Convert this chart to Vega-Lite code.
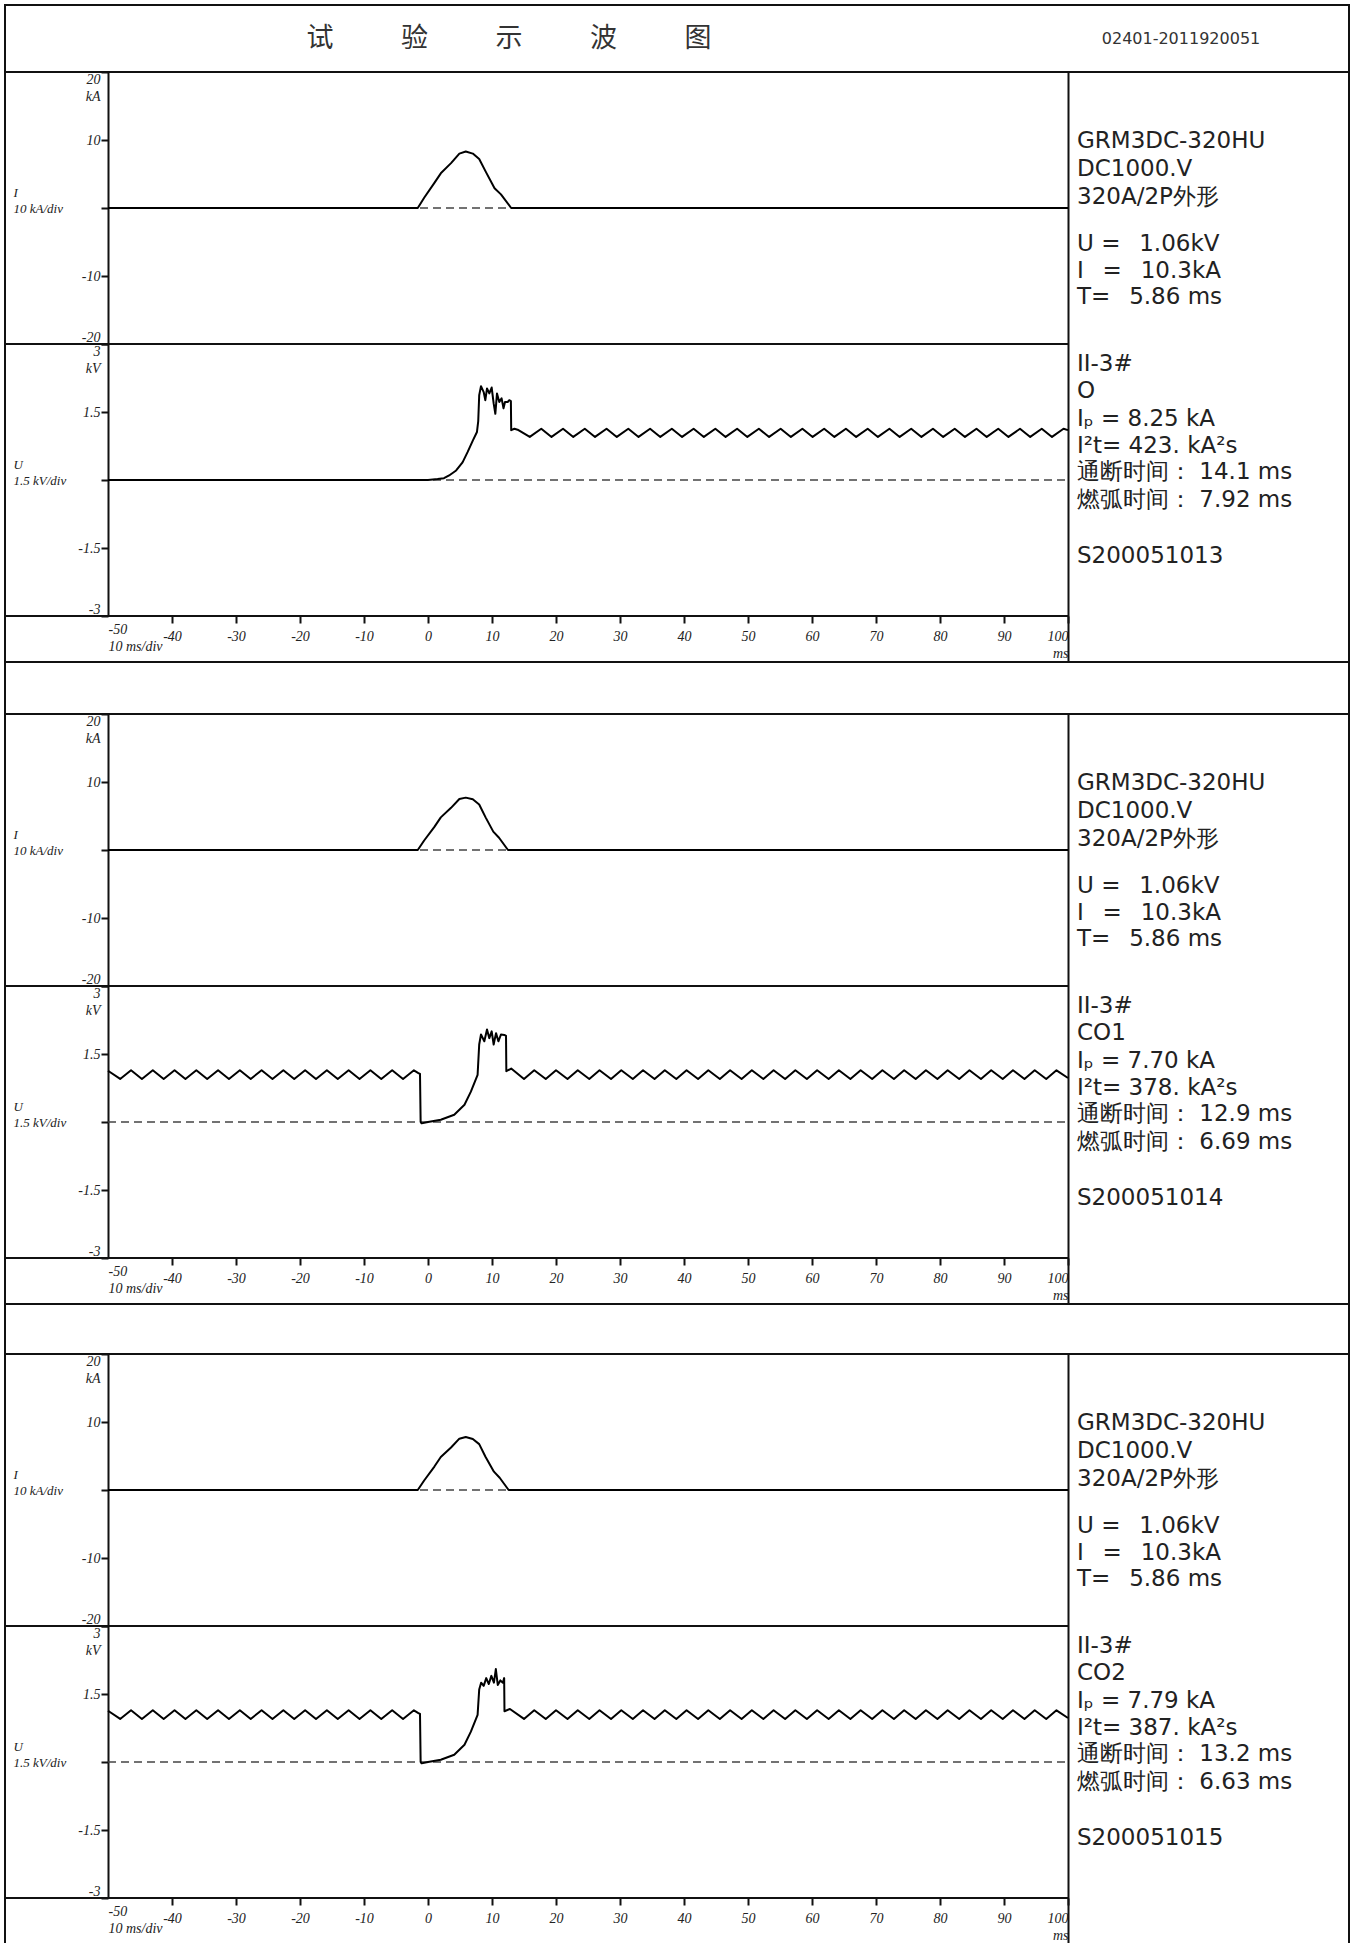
{
  "$schema": "https://vega.github.io/schema/vega-lite/v6.json",
  "padding": {"left": 3, "top": 4, "right": 2, "bottom": 0},
  "background": "white",
  "spacing": 0,
  "bounds": "flush",
  "resolve": {"scale": {"x": "independent", "y": "independent"}},
  "config": {"view": {"stroke": "#111", "strokeWidth": 2}},
  "datasets": {
    "header": [
      {"slot": "title", "text": "试\u3000\u3000\u2002验\u3000\u3000\u2002示\u3000\u3000\u2002波\u3000\u3000\u2002图"},
      {"slot": "code", "text": "02401-2011920051"}
    ],
    "blank": [{"note": ""}],
    "zero": [{"t": -50, "v": 0}, {"t": 100, "v": 0}],
    "frameI": [{"t": -66.09375, "v": -20}, {"t": 100, "v": -20}],
    "frameU": [{"t": -66.09375, "v": -3}, {"t": 100, "v": -3}],
    "info": [
      {"panel": 1, "line": 0, "text": "GRM3DC-320HU"},
      {"panel": 1, "line": 1.05, "text": "DC1000.V"},
      {"panel": 1, "line": 2.1, "text": "320A/2P外形"},
      {"panel": 1, "line": 3.9, "text": "U =\u2002 1.06kV"},
      {"panel": 1, "line": 4.9, "text": "I\u2002 =\u2002 10.3kA"},
      {"panel": 1, "line": 5.9, "text": "T=\u2002 5.86 ms"},
      {"panel": 1, "line": 8.4, "text": "II-3#"},
      {"panel": 1, "line": 9.45, "text": "O"},
      {"panel": 1, "line": 10.5, "text": "Iₚ = 8.25 kA"},
      {"panel": 1, "line": 11.5, "text": "I²t= 423. kA²s"},
      {"panel": 1, "line": 12.5, "text": "通断时间： 14.1 ms"},
      {"panel": 1, "line": 13.55, "text": "燃弧时间： 7.92 ms"},
      {"panel": 1, "line": 15.65, "text": "S200051013"},
      {"panel": 2, "line": 0, "text": "GRM3DC-320HU"},
      {"panel": 2, "line": 1.05, "text": "DC1000.V"},
      {"panel": 2, "line": 2.1, "text": "320A/2P外形"},
      {"panel": 2, "line": 3.9, "text": "U =\u2002 1.06kV"},
      {"panel": 2, "line": 4.9, "text": "I\u2002 =\u2002 10.3kA"},
      {"panel": 2, "line": 5.9, "text": "T=\u2002 5.86 ms"},
      {"panel": 2, "line": 8.4, "text": "II-3#"},
      {"panel": 2, "line": 9.45, "text": "CO1"},
      {"panel": 2, "line": 10.5, "text": "Iₚ = 7.70 kA"},
      {"panel": 2, "line": 11.5, "text": "I²t= 378. kA²s"},
      {"panel": 2, "line": 12.5, "text": "通断时间： 12.9 ms"},
      {"panel": 2, "line": 13.55, "text": "燃弧时间： 6.69 ms"},
      {"panel": 2, "line": 15.65, "text": "S200051014"},
      {"panel": 3, "line": 0, "text": "GRM3DC-320HU"},
      {"panel": 3, "line": 1.05, "text": "DC1000.V"},
      {"panel": 3, "line": 2.1, "text": "320A/2P外形"},
      {"panel": 3, "line": 3.9, "text": "U =\u2002 1.06kV"},
      {"panel": 3, "line": 4.9, "text": "I\u2002 =\u2002 10.3kA"},
      {"panel": 3, "line": 5.9, "text": "T=\u2002 5.86 ms"},
      {"panel": 3, "line": 8.4, "text": "II-3#"},
      {"panel": 3, "line": 9.45, "text": "CO2"},
      {"panel": 3, "line": 10.5, "text": "Iₚ = 7.79 kA"},
      {"panel": 3, "line": 11.5, "text": "I²t= 387. kA²s"},
      {"panel": 3, "line": 12.5, "text": "通断时间： 13.2 ms"},
      {"panel": 3, "line": 13.55, "text": "燃弧时间： 6.63 ms"},
      {"panel": 3, "line": 15.65, "text": "S200051015"}
    ],
    "I1": [{"t":-50,"v":0},{"t":-1.6,"v":0},{"t":-0.6,"v":1.5},{"t":1.0,"v":3.7},{"t":2.0,"v":5.1},{"t":3.6,"v":6.6},{"t":4.9,"v":8.0},{"t":5.9,"v":8.3},{"t":7.0,"v":8.0},{"t":8.0,"v":7.2},{"t":9.1,"v":5.2},{"t":10.4,"v":2.9},{"t":11.4,"v":2.0},{"t":13.0,"v":0},{"t":100,"v":0}],
    "I2": [{"t":-50,"v":0},{"t":-1.6,"v":0},{"t":-0.6,"v":1.4},{"t":1.0,"v":3.4},{"t":2.0,"v":4.8},{"t":3.6,"v":6.2},{"t":4.9,"v":7.5},{"t":5.9,"v":7.7},{"t":7.0,"v":7.45},{"t":8.0,"v":6.7},{"t":9.0,"v":4.8},{"t":10.2,"v":2.7},{"t":11.1,"v":1.8},{"t":12.5,"v":0},{"t":100,"v":0}],
    "I3": [{"t":-50,"v":0},{"t":-1.6,"v":0},{"t":-0.6,"v":1.4},{"t":1.0,"v":3.45},{"t":2.0,"v":4.85},{"t":3.6,"v":6.25},{"t":4.9,"v":7.55},{"t":5.9,"v":7.8},{"t":7.0,"v":7.5},{"t":8.0,"v":6.75},{"t":9.0,"v":4.85},{"t":10.3,"v":2.7},{"t":11.2,"v":1.8},{"t":12.6,"v":0},{"t":100,"v":0}],
    "U1": [{"t":-50,"v":0},{"t":0,"v":0},{"t":1.5,"v":0.02},{"t":2.5,"v":0.04},{"t":3.3,"v":0.1},{"t":4.4,"v":0.21},{"t":5.4,"v":0.39},{"t":6.2,"v":0.62},{"t":7.0,"v":0.87},{"t":7.65,"v":1.06},{"t":7.85,"v":1.3},{"t":8.0,"v":1.87},{"t":8.28,"v":2.07},{"t":8.7,"v":1.94},{"t":8.96,"v":1.76},{"t":9.22,"v":2.02},{"t":9.58,"v":1.91},{"t":9.95,"v":2.04},{"t":10.26,"v":1.69},{"t":10.52,"v":1.46},{"t":10.78,"v":1.91},{"t":11.14,"v":1.72},{"t":11.5,"v":1.8},{"t":11.8,"v":1.58},{"t":12.03,"v":1.72},{"t":12.45,"v":1.72},{"t":12.7,"v":1.76},{"t":12.95,"v":1.74},{"t":13.0,"v":1.1},{"t":13.5,"v":1.13},{"t":14.0,"v":1.11},{"t":15.9,"v":0.95},{"t":17.7,"v":1.13},{"t":19.3,"v":0.95},{"t":21.1,"v":1.13},{"t":22.7,"v":0.95},{"t":24.5,"v":1.13},{"t":26.1,"v":0.95},{"t":27.9,"v":1.13},{"t":29.5,"v":0.95},{"t":31.3,"v":1.13},{"t":32.9,"v":0.95},{"t":34.7,"v":1.13},{"t":36.3,"v":0.95},{"t":38.1,"v":1.13},{"t":39.7,"v":0.95},{"t":41.5,"v":1.13},{"t":43.1,"v":0.95},{"t":44.9,"v":1.13},{"t":46.5,"v":0.95},{"t":48.3,"v":1.13},{"t":49.9,"v":0.95},{"t":51.7,"v":1.13},{"t":53.3,"v":0.95},{"t":55.1,"v":1.13},{"t":56.7,"v":0.95},{"t":58.5,"v":1.13},{"t":60.1,"v":0.95},{"t":61.9,"v":1.13},{"t":63.5,"v":0.95},{"t":65.3,"v":1.13},{"t":66.9,"v":0.95},{"t":68.7,"v":1.13},{"t":70.3,"v":0.95},{"t":72.1,"v":1.13},{"t":73.7,"v":0.95},{"t":75.5,"v":1.13},{"t":77.1,"v":0.95},{"t":78.9,"v":1.13},{"t":80.5,"v":0.95},{"t":82.3,"v":1.13},{"t":83.9,"v":0.95},{"t":85.7,"v":1.13},{"t":87.3,"v":0.95},{"t":89.1,"v":1.13},{"t":90.7,"v":0.95},{"t":92.5,"v":1.13},{"t":94.1,"v":0.95},{"t":95.9,"v":1.13},{"t":97.5,"v":0.95},{"t":99.3,"v":1.13},{"t":100,"v":1.1}],
    "U2": [{"t":-50,"v":1.13},{"t":-48.1,"v":0.95},{"t":-46.4,"v":1.14},{"t":-44.7,"v":0.95},{"t":-43.0,"v":1.14},{"t":-41.3,"v":0.95},{"t":-39.6,"v":1.14},{"t":-37.9,"v":0.95},{"t":-36.2,"v":1.14},{"t":-34.5,"v":0.95},{"t":-32.8,"v":1.14},{"t":-31.1,"v":0.95},{"t":-29.4,"v":1.14},{"t":-27.7,"v":0.95},{"t":-26.0,"v":1.14},{"t":-24.3,"v":0.95},{"t":-22.6,"v":1.14},{"t":-20.9,"v":0.95},{"t":-19.2,"v":1.14},{"t":-17.5,"v":0.95},{"t":-15.8,"v":1.14},{"t":-14.1,"v":0.95},{"t":-12.4,"v":1.14},{"t":-10.7,"v":0.95},{"t":-9.0,"v":1.14},{"t":-7.3,"v":0.95},{"t":-5.6,"v":1.14},{"t":-3.9,"v":0.95},{"t":-2.2,"v":1.14},{"t":-1.5,"v":1.08},{"t":-1.25,"v":1.06},{"t":-1.15,"v":0.0},{"t":-1.0,"v":-0.03},{"t":0.0,"v":0.0},{"t":2.0,"v":0.05},{"t":4.1,"v":0.16},{"t":5.7,"v":0.38},{"t":6.7,"v":0.67},{"t":7.75,"v":1.04},{"t":8.0,"v":1.71},{"t":8.28,"v":1.93},{"t":8.8,"v":1.78},{"t":9.22,"v":2.04},{"t":9.58,"v":1.85},{"t":9.95,"v":2.0},{"t":10.26,"v":1.71},{"t":10.63,"v":1.96},{"t":11.0,"v":1.78},{"t":11.4,"v":1.93},{"t":11.93,"v":1.92},{"t":12.19,"v":1.9},{"t":12.24,"v":1.12},{"t":13.0,"v":1.18},{"t":15.0,"v":0.95},{"t":16.6,"v":1.14},{"t":18.4,"v":0.95},{"t":20.0,"v":1.14},{"t":21.8,"v":0.95},{"t":23.4,"v":1.14},{"t":25.2,"v":0.95},{"t":26.8,"v":1.14},{"t":28.6,"v":0.95},{"t":30.2,"v":1.14},{"t":32.0,"v":0.95},{"t":33.6,"v":1.14},{"t":35.4,"v":0.95},{"t":37.0,"v":1.14},{"t":38.8,"v":0.95},{"t":40.4,"v":1.14},{"t":42.2,"v":0.95},{"t":43.8,"v":1.14},{"t":45.6,"v":0.95},{"t":47.2,"v":1.14},{"t":49.0,"v":0.95},{"t":50.6,"v":1.14},{"t":52.4,"v":0.95},{"t":54.0,"v":1.14},{"t":55.8,"v":0.95},{"t":57.4,"v":1.14},{"t":59.2,"v":0.95},{"t":60.8,"v":1.14},{"t":62.6,"v":0.95},{"t":64.2,"v":1.14},{"t":66.0,"v":0.95},{"t":67.6,"v":1.14},{"t":69.4,"v":0.95},{"t":71.0,"v":1.14},{"t":72.8,"v":0.95},{"t":74.4,"v":1.14},{"t":76.2,"v":0.95},{"t":77.8,"v":1.14},{"t":79.6,"v":0.95},{"t":81.2,"v":1.14},{"t":83.0,"v":0.95},{"t":84.6,"v":1.14},{"t":86.4,"v":0.95},{"t":88.0,"v":1.14},{"t":89.8,"v":0.95},{"t":91.4,"v":1.14},{"t":93.2,"v":0.95},{"t":94.8,"v":1.14},{"t":96.6,"v":0.95},{"t":98.2,"v":1.14},{"t":100,"v":0.97}],
    "U3": [{"t":-50,"v":1.13},{"t":-48.1,"v":0.95},{"t":-46.4,"v":1.14},{"t":-44.7,"v":0.95},{"t":-43.0,"v":1.14},{"t":-41.3,"v":0.95},{"t":-39.6,"v":1.14},{"t":-37.9,"v":0.95},{"t":-36.2,"v":1.14},{"t":-34.5,"v":0.95},{"t":-32.8,"v":1.14},{"t":-31.1,"v":0.95},{"t":-29.4,"v":1.14},{"t":-27.7,"v":0.95},{"t":-26.0,"v":1.14},{"t":-24.3,"v":0.95},{"t":-22.6,"v":1.14},{"t":-20.9,"v":0.95},{"t":-19.2,"v":1.14},{"t":-17.5,"v":0.95},{"t":-15.8,"v":1.14},{"t":-14.1,"v":0.95},{"t":-12.4,"v":1.14},{"t":-10.7,"v":0.95},{"t":-9.0,"v":1.14},{"t":-7.3,"v":0.95},{"t":-5.6,"v":1.14},{"t":-3.9,"v":0.95},{"t":-2.2,"v":1.14},{"t":-1.5,"v":1.08},{"t":-1.25,"v":1.06},{"t":-1.15,"v":0.0},{"t":-1.0,"v":-0.03},{"t":0.0,"v":0.0},{"t":2.0,"v":0.05},{"t":4.1,"v":0.16},{"t":5.7,"v":0.38},{"t":6.7,"v":0.67},{"t":7.75,"v":1.04},{"t":8.0,"v":1.6},{"t":8.3,"v":1.75},{"t":8.7,"v":1.68},{"t":9.1,"v":1.85},{"t":9.5,"v":1.72},{"t":9.9,"v":1.9},{"t":10.3,"v":1.75},{"t":10.6,"v":2.05},{"t":10.9,"v":1.7},{"t":11.3,"v":1.8},{"t":11.7,"v":1.75},{"t":11.9,"v":1.85},{"t":11.95,"v":1.12},{"t":12.8,"v":1.17},{"t":15.0,"v":0.95},{"t":16.6,"v":1.14},{"t":18.4,"v":0.95},{"t":20.0,"v":1.14},{"t":21.8,"v":0.95},{"t":23.4,"v":1.14},{"t":25.2,"v":0.95},{"t":26.8,"v":1.14},{"t":28.6,"v":0.95},{"t":30.2,"v":1.14},{"t":32.0,"v":0.95},{"t":33.6,"v":1.14},{"t":35.4,"v":0.95},{"t":37.0,"v":1.14},{"t":38.8,"v":0.95},{"t":40.4,"v":1.14},{"t":42.2,"v":0.95},{"t":43.8,"v":1.14},{"t":45.6,"v":0.95},{"t":47.2,"v":1.14},{"t":49.0,"v":0.95},{"t":50.6,"v":1.14},{"t":52.4,"v":0.95},{"t":54.0,"v":1.14},{"t":55.8,"v":0.95},{"t":57.4,"v":1.14},{"t":59.2,"v":0.95},{"t":60.8,"v":1.14},{"t":62.6,"v":0.95},{"t":64.2,"v":1.14},{"t":66.0,"v":0.95},{"t":67.6,"v":1.14},{"t":69.4,"v":0.95},{"t":71.0,"v":1.14},{"t":72.8,"v":0.95},{"t":74.4,"v":1.14},{"t":76.2,"v":0.95},{"t":77.8,"v":1.14},{"t":79.6,"v":0.95},{"t":81.2,"v":1.14},{"t":83.0,"v":0.95},{"t":84.6,"v":1.14},{"t":86.4,"v":0.95},{"t":88.0,"v":1.14},{"t":89.8,"v":0.95},{"t":91.4,"v":1.14},{"t":93.2,"v":0.95},{"t":94.8,"v":1.14},{"t":96.6,"v":0.95},{"t":98.2,"v":1.14},{"t":100,"v":0.97}]
  },
  "vconcat": [
    {
      "width": 1344, "height": 67,
      "data": {"name": "header"},
      "encoding": {
        "x": {"field": "slot", "type": "nominal", "scale": {"type": "band", "domain": ["a", "title", "b", "code"], "paddingInner": 0, "paddingOuter": 0}, "axis": null},
        "text": {"field": "text"}
      },
      "layer": [
        {"transform": [{"filter": "datum.slot == 'title'"}], "mark": {"type": "text", "baseline": "middle", "align": "center", "font": "Noto Sans CJK SC", "fontSize": 27, "color": "#333"}},
        {"transform": [{"filter": "datum.slot == 'code'"}], "mark": {"type": "text", "baseline": "middle", "align": "center", "font": "DejaVu Sans", "fontSize": 16, "color": "#333"}}
      ]
    },
    {
      "width": 1344, "height": 590,
      "resolve": {"scale": {"y": "independent"}},
      "layer": [
        {
          "encoding": {
            "x": {"field": "t", "type": "quantitative", "scale": {"domain": [-66.09375, 143.90625], "nice": false, "zero": false},
              "axis": {"orient": "bottom", "offset": -46, "values": [-50, -40, -30, -20, -10, 0, 10, 20, 30, 40, 50, 60, 70, 80, 90, 100], "labelExpr": "datum.value == -50 ? ['-50','10 ms/div'] : (datum.value == 100 ? ['100','ms'] : '' + datum.value)", "labelAlign": {"condition": [{"test": "datum.value == -50", "value": "left"}, {"test": "datum.value == 100", "value": "right"}], "value": "center"}, "tickSize": {"condition": {"test": "datum.value == -50", "value": 0}, "value": 7}, "labelLineHeight": 17, "labelFont": "Liberation Serif", "labelFontStyle": "italic", "labelFontSize": 14, "labelColor": "#222", "labelPadding": 6, "tickWidth": 2, "tickColor": "#111", "domain": false, "grid": false, "title": null}},
            "y": {"field": "v", "type": "quantitative", "scale": {"domain": [-3, 3], "range": [544, 272], "nice": false, "zero": false},
              "axis": {"orient": "left", "offset": -103, "values": [-3, -1.5, 0, 1.5, 3], "labelExpr": "datum.value == 3 ? ['3','kV'] : (datum.value == 0 ? '' : '' + datum.value)", "labelFlush": true, "labelLineHeight": 17, "labelFont": "Liberation Serif", "labelFontStyle": "italic", "labelFontSize": 14, "labelColor": "#222", "labelPadding": 1, "tickSize": 7, "tickWidth": 2, "tickColor": "#111", "domain": true, "domainColor": "#111", "domainWidth": 2, "grid": false, "title": ["U", "1.5 kV/div"], "titleX": -95, "titleY": 392, "titleAngle": 0, "titleAlign": "left", "titleBaseline": "middle", "titleFont": "Liberation Serif", "titleFontStyle": "italic", "titleFontWeight": "normal", "titleFontSize": 13, "titleLineHeight": 16, "titleColor": "#222"}}
          },
          "layer": [
            {"data": {"name": "zero"}, "mark": {"type": "line", "strokeDash": [8, 5], "color": "#444", "strokeWidth": 1.6, "strokeJoin": "round"}},
            {"data": {"name": "frameU"}, "mark": {"type": "line", "color": "#111", "strokeWidth": 2, "strokeJoin": "round"}},
            {"data": {"name": "U1"}, "mark": {"type": "line", "color": "#000", "strokeWidth": 2, "strokeJoin": "round"}}
          ]
        },
        {
          "encoding": {
            "x": {"field": "t", "type": "quantitative", "scale": {"domain": [-66.09375, 143.90625], "nice": false, "zero": false}},
            "y": {"field": "v", "type": "quantitative", "scale": {"domain": [-20, 20], "range": [272, 0], "nice": false, "zero": false},
              "axis": {"orient": "left", "offset": -103, "values": [-20, -10, 0, 10, 20], "labelExpr": "datum.value == 20 ? ['20','kA'] : (datum.value == 0 ? '' : '' + datum.value)", "labelFlush": true, "labelLineHeight": 17, "labelFont": "Liberation Serif", "labelFontStyle": "italic", "labelFontSize": 14, "labelColor": "#222", "labelPadding": 1, "tickSize": 7, "tickWidth": 2, "tickColor": "#111", "domain": true, "domainColor": "#111", "domainWidth": 2, "grid": false, "title": ["I", "10 kA/div"], "titleX": -95, "titleY": 120, "titleAngle": 0, "titleAlign": "left", "titleBaseline": "middle", "titleFont": "Liberation Serif", "titleFontStyle": "italic", "titleFontWeight": "normal", "titleFontSize": 13, "titleLineHeight": 16, "titleColor": "#222"}}
          },
          "layer": [
            {"data": {"name": "zero"}, "mark": {"type": "line", "strokeDash": [8, 5], "color": "#444", "strokeWidth": 1.6, "strokeJoin": "round"}},
            {"data": {"name": "frameI"}, "mark": {"type": "line", "color": "#111", "strokeWidth": 2, "strokeJoin": "round"}},
            {"data": {"name": "I1"}, "mark": {"type": "line", "color": "#000", "strokeWidth": 2, "strokeJoin": "round"}}
          ]
        },
        {
          "data": {"name": "info"},
          "transform": [{"filter": "datum.panel == 1"}],
          "mark": {"type": "text", "align": "left", "baseline": "middle", "dx": 9, "font": "DejaVu Sans", "fontSize": 23, "color": "#222"},
          "encoding": {
            "x": {"datum": 100, "type": "quantitative", "scale": {"domain": [-66.09375, 143.90625], "nice": false, "zero": false}},
            "y": {"field": "line", "type": "quantitative", "scale": {"domain": [-2.6, 19.66], "range": [0, 590], "nice": false, "zero": false},
              "axis": {"orient": "right", "offset": -281, "domain": true, "domainColor": "#111", "domainWidth": 2, "ticks": false, "labels": false, "grid": false, "title": null}},
            "text": {"field": "text"}
          }
        }
      ]
    },
    {"width": 1344, "height": 52, "data": {"name": "blank"}, "mark": "text",
     "encoding": {"x": {"datum": 0.5, "type": "quantitative", "scale": {"domain": [0, 1]}, "axis": null}, "y": {"datum": 0.5, "type": "quantitative", "scale": {"domain": [0, 1]}, "axis": null}, "text": {"field": "note"}}},
    {
      "width": 1344, "height": 590,
      "resolve": {"scale": {"y": "independent"}},
      "layer": [
        {
          "encoding": {
            "x": {"field": "t", "type": "quantitative", "scale": {"domain": [-66.09375, 143.90625], "nice": false, "zero": false},
              "axis": {"orient": "bottom", "offset": -46, "values": [-50, -40, -30, -20, -10, 0, 10, 20, 30, 40, 50, 60, 70, 80, 90, 100], "labelExpr": "datum.value == -50 ? ['-50','10 ms/div'] : (datum.value == 100 ? ['100','ms'] : '' + datum.value)", "labelAlign": {"condition": [{"test": "datum.value == -50", "value": "left"}, {"test": "datum.value == 100", "value": "right"}], "value": "center"}, "tickSize": {"condition": {"test": "datum.value == -50", "value": 0}, "value": 7}, "labelLineHeight": 17, "labelFont": "Liberation Serif", "labelFontStyle": "italic", "labelFontSize": 14, "labelColor": "#222", "labelPadding": 6, "tickWidth": 2, "tickColor": "#111", "domain": false, "grid": false, "title": null}},
            "y": {"field": "v", "type": "quantitative", "scale": {"domain": [-3, 3], "range": [544, 272], "nice": false, "zero": false},
              "axis": {"orient": "left", "offset": -103, "values": [-3, -1.5, 0, 1.5, 3], "labelExpr": "datum.value == 3 ? ['3','kV'] : (datum.value == 0 ? '' : '' + datum.value)", "labelFlush": true, "labelLineHeight": 17, "labelFont": "Liberation Serif", "labelFontStyle": "italic", "labelFontSize": 14, "labelColor": "#222", "labelPadding": 1, "tickSize": 7, "tickWidth": 2, "tickColor": "#111", "domain": true, "domainColor": "#111", "domainWidth": 2, "grid": false, "title": ["U", "1.5 kV/div"], "titleX": -95, "titleY": 392, "titleAngle": 0, "titleAlign": "left", "titleBaseline": "middle", "titleFont": "Liberation Serif", "titleFontStyle": "italic", "titleFontWeight": "normal", "titleFontSize": 13, "titleLineHeight": 16, "titleColor": "#222"}}
          },
          "layer": [
            {"data": {"name": "zero"}, "mark": {"type": "line", "strokeDash": [8, 5], "color": "#444", "strokeWidth": 1.6, "strokeJoin": "round"}},
            {"data": {"name": "frameU"}, "mark": {"type": "line", "color": "#111", "strokeWidth": 2, "strokeJoin": "round"}},
            {"data": {"name": "U2"}, "mark": {"type": "line", "color": "#000", "strokeWidth": 2, "strokeJoin": "round"}}
          ]
        },
        {
          "encoding": {
            "x": {"field": "t", "type": "quantitative", "scale": {"domain": [-66.09375, 143.90625], "nice": false, "zero": false}},
            "y": {"field": "v", "type": "quantitative", "scale": {"domain": [-20, 20], "range": [272, 0], "nice": false, "zero": false},
              "axis": {"orient": "left", "offset": -103, "values": [-20, -10, 0, 10, 20], "labelExpr": "datum.value == 20 ? ['20','kA'] : (datum.value == 0 ? '' : '' + datum.value)", "labelFlush": true, "labelLineHeight": 17, "labelFont": "Liberation Serif", "labelFontStyle": "italic", "labelFontSize": 14, "labelColor": "#222", "labelPadding": 1, "tickSize": 7, "tickWidth": 2, "tickColor": "#111", "domain": true, "domainColor": "#111", "domainWidth": 2, "grid": false, "title": ["I", "10 kA/div"], "titleX": -95, "titleY": 120, "titleAngle": 0, "titleAlign": "left", "titleBaseline": "middle", "titleFont": "Liberation Serif", "titleFontStyle": "italic", "titleFontWeight": "normal", "titleFontSize": 13, "titleLineHeight": 16, "titleColor": "#222"}}
          },
          "layer": [
            {"data": {"name": "zero"}, "mark": {"type": "line", "strokeDash": [8, 5], "color": "#444", "strokeWidth": 1.6, "strokeJoin": "round"}},
            {"data": {"name": "frameI"}, "mark": {"type": "line", "color": "#111", "strokeWidth": 2, "strokeJoin": "round"}},
            {"data": {"name": "I2"}, "mark": {"type": "line", "color": "#000", "strokeWidth": 2, "strokeJoin": "round"}}
          ]
        },
        {
          "data": {"name": "info"},
          "transform": [{"filter": "datum.panel == 2"}],
          "mark": {"type": "text", "align": "left", "baseline": "middle", "dx": 9, "font": "DejaVu Sans", "fontSize": 23, "color": "#222"},
          "encoding": {
            "x": {"datum": 100, "type": "quantitative", "scale": {"domain": [-66.09375, 143.90625], "nice": false, "zero": false}},
            "y": {"field": "line", "type": "quantitative", "scale": {"domain": [-2.6, 19.66], "range": [0, 590], "nice": false, "zero": false},
              "axis": {"orient": "right", "offset": -281, "domain": true, "domainColor": "#111", "domainWidth": 2, "ticks": false, "labels": false, "grid": false, "title": null}},
            "text": {"field": "text"}
          }
        }
      ]
    },
    {"width": 1344, "height": 50, "data": {"name": "blank"}, "mark": "text",
     "encoding": {"x": {"datum": 0.5, "type": "quantitative", "scale": {"domain": [0, 1]}, "axis": null}, "y": {"datum": 0.5, "type": "quantitative", "scale": {"domain": [0, 1]}, "axis": null}, "text": {"field": "note"}}},
    {
      "width": 1344, "height": 590,
      "resolve": {"scale": {"y": "independent"}},
      "layer": [
        {
          "encoding": {
            "x": {"field": "t", "type": "quantitative", "scale": {"domain": [-66.09375, 143.90625], "nice": false, "zero": false},
              "axis": {"orient": "bottom", "offset": -46, "values": [-50, -40, -30, -20, -10, 0, 10, 20, 30, 40, 50, 60, 70, 80, 90, 100], "labelExpr": "datum.value == -50 ? ['-50','10 ms/div'] : (datum.value == 100 ? ['100','ms'] : '' + datum.value)", "labelAlign": {"condition": [{"test": "datum.value == -50", "value": "left"}, {"test": "datum.value == 100", "value": "right"}], "value": "center"}, "tickSize": {"condition": {"test": "datum.value == -50", "value": 0}, "value": 7}, "labelLineHeight": 17, "labelFont": "Liberation Serif", "labelFontStyle": "italic", "labelFontSize": 14, "labelColor": "#222", "labelPadding": 6, "tickWidth": 2, "tickColor": "#111", "domain": false, "grid": false, "title": null}},
            "y": {"field": "v", "type": "quantitative", "scale": {"domain": [-3, 3], "range": [544, 272], "nice": false, "zero": false},
              "axis": {"orient": "left", "offset": -103, "values": [-3, -1.5, 0, 1.5, 3], "labelExpr": "datum.value == 3 ? ['3','kV'] : (datum.value == 0 ? '' : '' + datum.value)", "labelFlush": true, "labelLineHeight": 17, "labelFont": "Liberation Serif", "labelFontStyle": "italic", "labelFontSize": 14, "labelColor": "#222", "labelPadding": 1, "tickSize": 7, "tickWidth": 2, "tickColor": "#111", "domain": true, "domainColor": "#111", "domainWidth": 2, "grid": false, "title": ["U", "1.5 kV/div"], "titleX": -95, "titleY": 392, "titleAngle": 0, "titleAlign": "left", "titleBaseline": "middle", "titleFont": "Liberation Serif", "titleFontStyle": "italic", "titleFontWeight": "normal", "titleFontSize": 13, "titleLineHeight": 16, "titleColor": "#222"}}
          },
          "layer": [
            {"data": {"name": "zero"}, "mark": {"type": "line", "strokeDash": [8, 5], "color": "#444", "strokeWidth": 1.6, "strokeJoin": "round"}},
            {"data": {"name": "frameU"}, "mark": {"type": "line", "color": "#111", "strokeWidth": 2, "strokeJoin": "round"}},
            {"data": {"name": "U3"}, "mark": {"type": "line", "color": "#000", "strokeWidth": 2, "strokeJoin": "round"}}
          ]
        },
        {
          "encoding": {
            "x": {"field": "t", "type": "quantitative", "scale": {"domain": [-66.09375, 143.90625], "nice": false, "zero": false}},
            "y": {"field": "v", "type": "quantitative", "scale": {"domain": [-20, 20], "range": [272, 0], "nice": false, "zero": false},
              "axis": {"orient": "left", "offset": -103, "values": [-20, -10, 0, 10, 20], "labelExpr": "datum.value == 20 ? ['20','kA'] : (datum.value == 0 ? '' : '' + datum.value)", "labelFlush": true, "labelLineHeight": 17, "labelFont": "Liberation Serif", "labelFontStyle": "italic", "labelFontSize": 14, "labelColor": "#222", "labelPadding": 1, "tickSize": 7, "tickWidth": 2, "tickColor": "#111", "domain": true, "domainColor": "#111", "domainWidth": 2, "grid": false, "title": ["I", "10 kA/div"], "titleX": -95, "titleY": 120, "titleAngle": 0, "titleAlign": "left", "titleBaseline": "middle", "titleFont": "Liberation Serif", "titleFontStyle": "italic", "titleFontWeight": "normal", "titleFontSize": 13, "titleLineHeight": 16, "titleColor": "#222"}}
          },
          "layer": [
            {"data": {"name": "zero"}, "mark": {"type": "line", "strokeDash": [8, 5], "color": "#444", "strokeWidth": 1.6, "strokeJoin": "round"}},
            {"data": {"name": "frameI"}, "mark": {"type": "line", "color": "#111", "strokeWidth": 2, "strokeJoin": "round"}},
            {"data": {"name": "I3"}, "mark": {"type": "line", "color": "#000", "strokeWidth": 2, "strokeJoin": "round"}}
          ]
        },
        {
          "data": {"name": "info"},
          "transform": [{"filter": "datum.panel == 3"}],
          "mark": {"type": "text", "align": "left", "baseline": "middle", "dx": 9, "font": "DejaVu Sans", "fontSize": 23, "color": "#222"},
          "encoding": {
            "x": {"datum": 100, "type": "quantitative", "scale": {"domain": [-66.09375, 143.90625], "nice": false, "zero": false}},
            "y": {"field": "line", "type": "quantitative", "scale": {"domain": [-2.6, 19.66], "range": [0, 590], "nice": false, "zero": false},
              "axis": {"orient": "right", "offset": -281, "domain": true, "domainColor": "#111", "domainWidth": 2, "ticks": false, "labels": false, "grid": false, "title": null}},
            "text": {"field": "text"}
          }
        }
      ]
    }
  ]
}
